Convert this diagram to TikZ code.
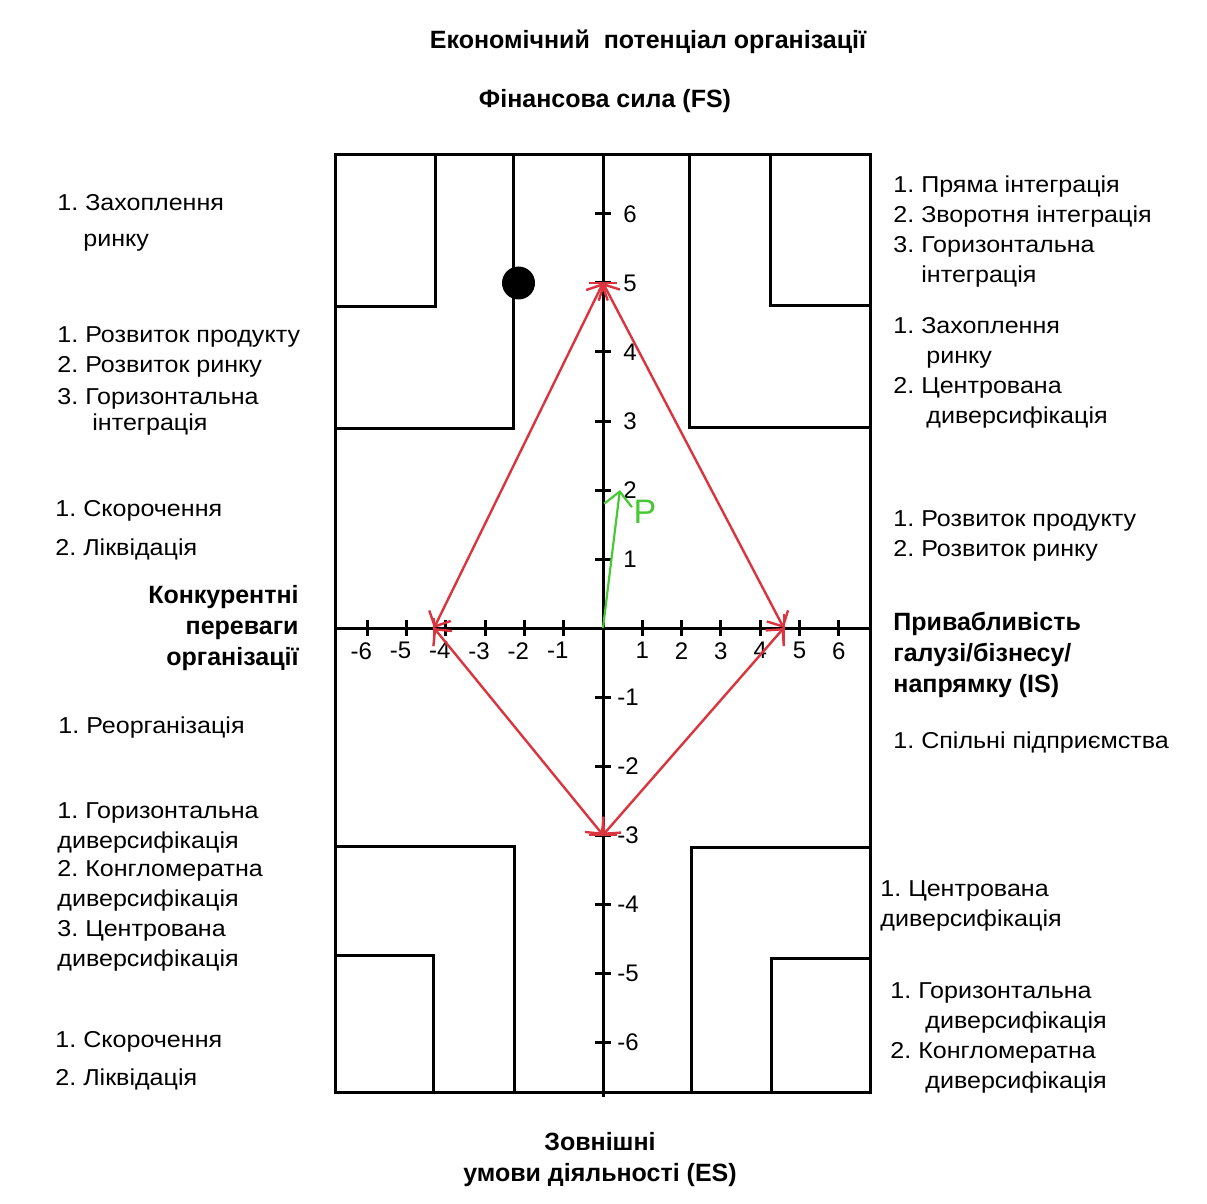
\documentclass[tikz,border=0pt]{standalone}
\usepackage{fontspec}
\setmainfont{Liberation Sans}
\newfontfamily\lstfont{Liberation Sans}[FakeStretch=1.09]
\usetikzlibrary{arrows.meta}
\definecolor{chred}{RGB}{218,52,62}
\definecolor{chgreen}{RGB}{72,200,52}
\frenchspacing

\begin{document}
\begin{tikzpicture}[x=0.5pt, y=-0.5pt,
  frm/.style={line width=1.5pt},
  lst/.style={anchor=north west, align=left, inner sep=0pt,
              font=\lstfont\fontsize{11.5}{15}\selectfont},
  hdr/.style={inner sep=0pt, font=\bfseries\fontsize{12.5}{15.5}\selectfont},
  num/.style={inner sep=0pt, font=\fontsize{12}{14}\selectfont},
  redln/.style={draw=chred, line width=1.2pt},
  vec/.style={draw=chgreen, line width=1.1pt}]
\useasboundingbox (0,0) rectangle (1207,1204);

% headers
\node[hdr] (ttl) at (648,42) {Економічний~~потенціал організації};
\node[hdr] (tfs) at (605,101) {Фінансова сила (FS)};
\node[hdr, anchor=north east, align=right] (tca) at (299,585)
  {Конкурентні\\переваги\\організації};
\node[hdr, anchor=north west, align=left] (tis) at (893,612)
  {Привабливість\\галузі/бізнесу/\\напрямку (IS)};
\node[hdr, anchor=north, align=center] (tes) at (600,1132)
  {Зовнішні\\умови діяльності (ES)};

% strategies, left side
\node[lst] (l1) at (57,194) {1. Захоплення\\[3pt]\hspace*{13pt}ринку};
\node[lst] (l2) at (57,326) {1. Розвиток продукту\\2. Розвиток ринку\\[1pt]
  3. Горизонтальна\\[-2pt]\hspace*{17.5pt}інтеграція};
\node[lst] (l3) at (55,500) {1. Скорочення\\[4.5pt]2. Ліквідація};
\node[lst] (l4) at (58,716) {1. Реорганізація};
\node[lst] (l5) at (57,802) {1. Горизонтальна\\диверсифікація\\[-1pt]
  2. Конгломератна\\диверсифікація\\3. Центрована\\диверсифікація};
\node[lst] (l6) at (55,1031) {1. Скорочення\\[4pt]2. Ліквідація};

% strategies, right side
\node[lst] (r1) at (893,175) {1. Пряма інтеграція\\2. Зворотня інтеграція\\
  3. Горизонтальна\\\hspace*{14pt}інтеграція};
\node[lst] (r2) at (893,317) {1. Захоплення\\\hspace*{16.5pt}ринку\\
  2. Центрована\\\hspace*{16.5pt}диверсифікація};
\node[lst] (r3) at (893,510) {1. Розвиток продукту\\2. Розвиток ринку};
\node[lst] (r4) at (893,731) {1. Спільні підприємства};
\node[lst] (r5) at (880,880) {1. Центрована\\диверсифікація};
\node[lst] (r6) at (890,982) {1. Горизонтальна\\\hspace*{17.5pt}диверсифікація\\
  2. Конгломератна\\\hspace*{17.5pt}диверсифікація};

% frame and zones
\draw[frm] (335,155) rectangle (870,1092);
\draw[frm] (435,155) |- (335,307);
\draw[frm] (513,155) |- (335,428);
\draw[frm] (689,155) |- (870,427);
\draw[frm] (770,155) |- (870,306);
\draw[frm] (514,1092) |- (335,846);
\draw[frm] (433,1092) |- (335,955);
\draw[frm] (691,1092) |- (870,847);
\draw[frm] (771,1092) |- (870,958);

% axes
\draw[frm] (335,628) -- (870,628);
\draw[frm] (603,155) -- (603,1097);

\begin{scope}[shift={(603,628)}, x=19.65pt, y=34.5pt]
  \coordinate (o) at (0,0);
  \foreach \v in {-6,...,-1,1,2,...,6} {
    \draw[frm] (\v,0) +(0,-4pt) -- +(0,4pt);
    \draw[frm] (0,\v) +(-4pt,0) -- +(4pt,0);
  }
  \foreach \v in {1,...,6} {
    \node[num, anchor=north] at ([yshift=-7pt]\v,0) {\v};
    \node[num, anchor=west] at ([xshift=10pt]0,\v) {\v};
  }
  \foreach \v in {-6,...,-1} {
    \node[num, anchor=north] at ([xshift=-3pt, yshift=-7pt]\v,0) {\v};
    \node[num, anchor=west] at ([xshift=7pt]0,\v) {\v};
  }

  % position of the organisation
  \node[circle, fill, minimum size=16.5pt, inner sep=0pt] (pos) at (-2.15,5) {};

  % potential polygon
  \coordinate (vfs) at (0,5);
  \coordinate (vca) at (-4.3,0);
  \coordinate (vis) at (4.6,0);
  \coordinate (ves) at (0,-3);
  \draw[redln] (vfs) +(-7pt,0) -- +(7pt,0);
  \draw[redln] (ves) +(-7pt,0) -- +(7pt,0);
  \draw[redln] (vis) +(0,-7pt) -- +(0,7pt);
  \draw[redln] (vca) +(0,-5pt) -- +(0,5pt);
  \draw[redln, {Straight Barb[length=6pt]}-{Straight Barb[length=6pt]}] (vfs) -- (vca);
  \draw[redln, {Straight Barb[length=6pt]}-{Straight Barb[length=6pt]}] (vca) -- (ves);
  \draw[redln, {Straight Barb[length=6pt]}-{Straight Barb[length=6pt]}] (ves) -- (vis);
  \draw[redln, {Straight Barb[length=6pt]}-{Straight Barb[length=6pt]}] (vis) -- (vfs);

  % strategy vector
  \coordinate (vp) at (0.43,2);
  \draw[vec, -{Straight Barb[length=7pt]}] (o) -- (vp);
  \node[text=chgreen, inner sep=0pt, font=\fontsize{17}{17}\selectfont] (p) at (1.07,1.68) {P};
\end{scope}
\end{tikzpicture}
\end{document}
